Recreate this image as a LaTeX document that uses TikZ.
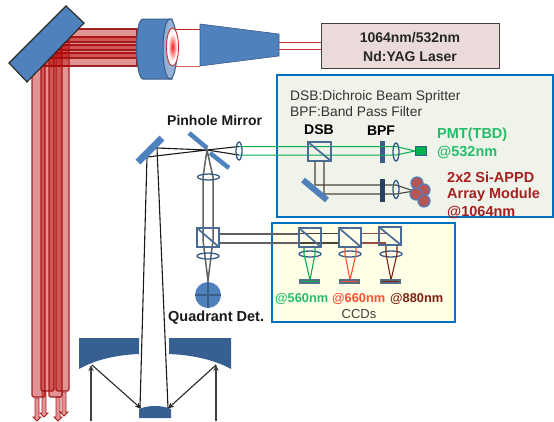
\documentclass[tikz,border=0pt]{standalone}
\usepackage{fontspec}
\setmainfont{Liberation Sans}
\usetikzlibrary{calc, positioning, arrows.meta}
\definecolor{colBeam}{HTML}{B80000}
\definecolor{colBeamStroke}{HTML}{A01818}
\definecolor{colOptic}{HTML}{4F81BD}
\definecolor{colOpticStroke}{HTML}{385D8A}
\definecolor{colCube}{HTML}{4A6C94}
\definecolor{colPrimary}{HTML}{376092}
\definecolor{colFace}{HTML}{95B0D4}
\definecolor{colLaser}{HTML}{EBDADA}
\definecolor{colPanel}{HTML}{EFF3EA}
\definecolor{colCcdPanel}{HTML}{FFFFE8}
\definecolor{colPanelStroke}{HTML}{0070C0}
\definecolor{colGreen}{HTML}{00B050}
\definecolor{colOrange}{HTML}{FF5030}
\definecolor{colDeep}{HTML}{7F2010}
\definecolor{colAppd}{HTML}{A52020}
\definecolor{colRay}{HTML}{606060}
\definecolor{colPair}{HTML}{4A4436}
\definecolor{colCcd}{HTML}{546E85}
\definecolor{colAppdFill}{HTML}{B55555}

\begin{document}
\begin{tikzpicture}[x=1pt, y=-1pt, >={Stealth[length=6pt,width=5.5pt]},
  bandfill/.style={fill=colBeam, fill opacity=0.42, draw=colBeamStroke, draw opacity=0.95, line width=1.1pt},
  lensshape/.style={draw=colOpticStroke, line width=1.3pt},
  cubeshape/.style={draw=colCube, line width=1.7pt},
  txt/.style={inner sep=0pt, font=\fontsize{#1}{16}\selectfont},
  boldtxt/.style={inner sep=0pt, font=\fontsize{#1}{16}\selectfont\bfseries}]
  \useasboundingbox (0,0) rectangle (554,421);

  % Parameters
  \def\bandW{13}
  \def\focusX{207}
  \def\focusY{150}

  % Laser beam bundle, horizontal part then vertical part
  \foreach \a/\xl/\e in {53/32/397, 45/41/391, 37/49/397, 29/56/391} {
    \path[bandfill] (137,\a) -- (\xl,\a) -- (\xl,\a+\bandW) -- (137,\a+\bandW) -- cycle;
    \path[bandfill, rounded corners=1.5pt] (\xl,\a) -- (\xl+\bandW,\a) -- (\xl+\bandW,\e) -- (\xl,\e) -- cycle;
  }

  % Small exit arrows below the bundle
  \foreach \x/\a/\e in {37/398/421, 44/391/417, 58/397/421, 64/392/416} {
    \path[bandfill, line width=0.8pt] (\x-2,\a) -- (\x+2,\a) -- (\x+2,\e-4) -- (\x+4,\e-4) -- (\x,\e) -- (\x-4,\e-4) -- (\x-2,\e-4) -- cycle;
  }

  % Folding mirror
  \fill[colOptic, draw=black!85, line width=1.1pt] (66,6) -- (84,23) -- (27,82) -- (9,63) -- cycle;

  % Beam between expander lens and cone
  \draw[colBeam!85, line width=0.9pt] (172,29) -- (200,29);
  \draw[colBeam!60, line width=0.9pt] (172,66) -- (200,66);

  % Expander cylinder with the hole on its face
  \fill[colOptic, draw=colOpticStroke, line width=1pt] (172,19) -- (143,19) .. controls (134,19) and (135,79) .. (143,79) -- (172,79) -- cycle;
  \fill[colFace, draw=colOpticStroke, line width=1pt] (170,49) ellipse (7 and 30);
  \fill[white] (172.5,47) ellipse (6 and 19);
  \shade[inner color=red!90!white, outer color=white] (172.5,47) ellipse (4.5 and 14);
  \draw[colBeam!80, line width=0.9pt] (172.5,47) ellipse (6 and 19);

  % Cone towards the laser
  \fill[colOptic, draw=colOpticStroke, line width=0.6pt] (200,24) -- (279,34) -- (279,56) -- (200,66) -- cycle;
  \draw[colBeam!80, line width=1pt] (279,42) -- (322,42);
  \draw[colBeam!80, line width=1pt] (279,49) -- (322,49);

  % Laser box
  \node[draw=black!75, fill=colLaser, line width=1.1pt, minimum width=178pt, minimum height=45pt, anchor=north west, inner sep=0pt] (laser) at (321,23) {};
  \node[boldtxt=14, text=black!85] (laserA) at (410,38) {1064nm/532nm};
  \node[boldtxt=14, text=black!85] (laserB) at (410,56) {Nd:YAG Laser};

  % Panels
  \draw[colPanelStroke, fill=colPanel, line width=1.7pt] (277,75) rectangle (553,217);
  \draw[colPanelStroke, fill=colCcdPanel, line width=1.7pt] (272,223) rectangle (455,322);

  % Rays around the pinhole mirror
  \draw[black!90, line width=1.1pt] (157,148) -- (\focusX,\focusY) -- (147,157);
  \draw[black!90, line width=1.1pt] (147,157) -- (140,408);
  \draw[black!90, line width=1.1pt] (157,148) -- (168,408);
  \draw[black!90, line width=1.1pt] (239,146.5) -- (\focusX,\focusY) -- (239,155);

  % Green pair to the PMT
  \draw[colGreen, line width=1pt] (239,146.5) -- (396,146.5) -- (415,151) -- (396,155) -- (239,155);

  % Pair to the APPD array
  \draw[colPair, line width=1.1pt] (315,161) -- (315,185) -- (396,185) -- (414,191) -- (396,194) -- (324,194) -- (324,161);

  % Pinhole mirror, relay optics, quadrant detector
  \foreach \xa/\ya/\xb/\yb/\wd in {162/138/138/162/7, 189/133/207/148/4.5, 210/153/229/168/4.5, 303/180/327/200/6} {
    \draw[colOptic, line width=\wd pt] (\xa,\ya) -- (\xb,\yb);
  }
  \draw[colRay, line width=1.5pt] (\focusX,\focusY) -- (203,177) -- (203,240) -- (208,281) -- (213,240) -- (213,177) -- cycle;
  \draw[colRay, line width=1.5pt] (219,234) -- (299,234);
  \draw[colRay, line width=1.5pt] (219,243) -- (299,243);
  \draw[colPair, line width=1.1pt] (299,233.5) -- (339,233.5);
  \draw[colPair, line width=1.1pt] (299,243) -- (339,243);
  \draw[colDeep!80, line width=1.1pt] (361,233.5) -- (386,233.5);
  \draw[colDeep!80, line width=1.1pt] (361,243) -- (386,243);

  % Lenses on the relay path
  \foreach \x/\y in {208.5/177, 208/256, 310/254, 350/254, 391/254} {
    \draw[lensshape] (\x,\y) ellipse (11 and 3);
  }
  \foreach \x/\y in {239/151, 396/152, 396/189.5} {
    \draw[lensshape] (\x,\y) ellipse (3 and 9);
  }

  % Quadrant detector
  \fill[colOptic] (208,295) circle (13);
  \draw[colOpticStroke, line width=2pt] (195,295) -- (221,295) (208,282) -- (208,308);

  % Filters
  \fill[colOpticStroke] (380,141) rectangle (384.5,163);
  \draw[colGreen, line width=1pt] (380,146.5) -- (384.5,146.5) (380,155) -- (384.5,155);
  \fill[colOpticStroke!70!black] (380,179) rectangle (384.5,202);

  % PMT and APPD array
  \draw[colOpticStroke, fill=colGreen, line width=1.6pt] (415.5,146.5) rectangle (426.5,155.5);
  \foreach \x/\y in {417/183, 424/190, 416/194, 424/201} {
    \draw[colOptic, fill=colAppdFill, line width=1.2pt] (\x,\y) circle (6);
  }

  % Coloured branches to the CCDs
  \foreach \xl/\xr/\xc/\col/\top in {304/315/310/colGreen/247, 345/356/350/colOrange/247, 386/397/391/colDeep/245} {
    \draw[\col, line width=1.1pt] (\xl,\top) -- (\xl,254) -- (\xc,280) -- (\xr,254) -- (\xr,\top);
  }

  % Cubes with their diagonals
  \foreach \xa/\ya/\xb/\yb in {308/142/331/161, 197/228/219/247, 299/228/321/247, 339/228/361/247, 379/227/401/245} {
    \draw[cubeshape] (\xa,\ya) rectangle (\xb,\yb) (\xa,\ya) -- (\xb,\yb);
  }

  % CCD bars
  \foreach \xa/\col in {299/colGreen, 339/colOrange, 380/colDeep} {
    \fill[colCcd] (\xa,279) rectangle (\xa+21,284);
    \draw[\col, line width=1.1pt] (\xa+2,281.5) -- (\xa+19,281.5);
  }

  % Primary and secondary mirror
  \fill[colPrimary] (79,338) -- (139,338) -- (139,354) .. controls (115,355) and (95,360) .. (79,369) -- cycle;
  \fill[colPrimary] (231,338) -- (169,338) -- (169,354) .. controls (193,355) and (215,360) .. (231,369) -- cycle;
  \fill[colPrimary] (139,418) -- (171,418) -- (171,409) .. controls (162,405) and (148,405) .. (139,409) -- cycle;

  % Rays between the mirrors
  \draw[->, black!75, line width=1.3pt] (91,421) -- (91,365);
  \draw[->, black!85, line width=1.1pt] (92,365) -- (141,408.5);
  \draw[->, black!75, line width=1.3pt] (216,421) -- (216,365);
  \draw[->, black!85, line width=1.1pt] (216,365) -- (168,408.5);

  % Labels
  \node[boldtxt=14, anchor=west, text=black!90] (pinhole) at (167,120) {Pinhole Mirror};
  \node[boldtxt=14.5, anchor=west, text=black!90] (quadrant) at (168,318) {Quadrant Det.};
  \node[txt=13.8, anchor=west, text=black!80] (noteA) at (290,97) {DSB:Dichroic Beam Spritter};
  \node[txt=13.8, anchor=west, text=black!80] (noteB) at (290,112) {BPF:Band Pass Filter};
  \node[boldtxt=14] (dsb) at (319,130) {DSB};
  \node[boldtxt=14] (bpf) at (381,131) {BPF};
  \node[boldtxt=14.5, anchor=west, text=colGreen!85!white] (pmtA) at (437,135) {PMT(TBD)};
  \node[boldtxt=14.5, anchor=west, text=colGreen!85!white] (pmtB) at (437,152) {@532nm};
  \node[boldtxt=14.5, anchor=west, text=colAppd] (appdA) at (447,177) {2x2 Si-APPD};
  \node[boldtxt=14.5, anchor=west, text=colAppd] (appdB) at (447,195) {Array Module};
  \node[boldtxt=14.5, anchor=west, text=colAppd] (appdC) at (447,212) {@1064nm};
  \node[boldtxt=12.8, anchor=west, text=colGreen!85!white] (ccdA) at (275,299) {@560nm};
  \node[boldtxt=12.8, anchor=west, text=colOrange] (ccdB) at (332,299) {@660nm};
  \node[boldtxt=12.8, anchor=west, text=colDeep] (ccdC) at (390,299) {@880nm};
  \node[txt=13, text=black!75] (ccds) at (359,314) {CCDs};
\end{tikzpicture}
\end{document}
